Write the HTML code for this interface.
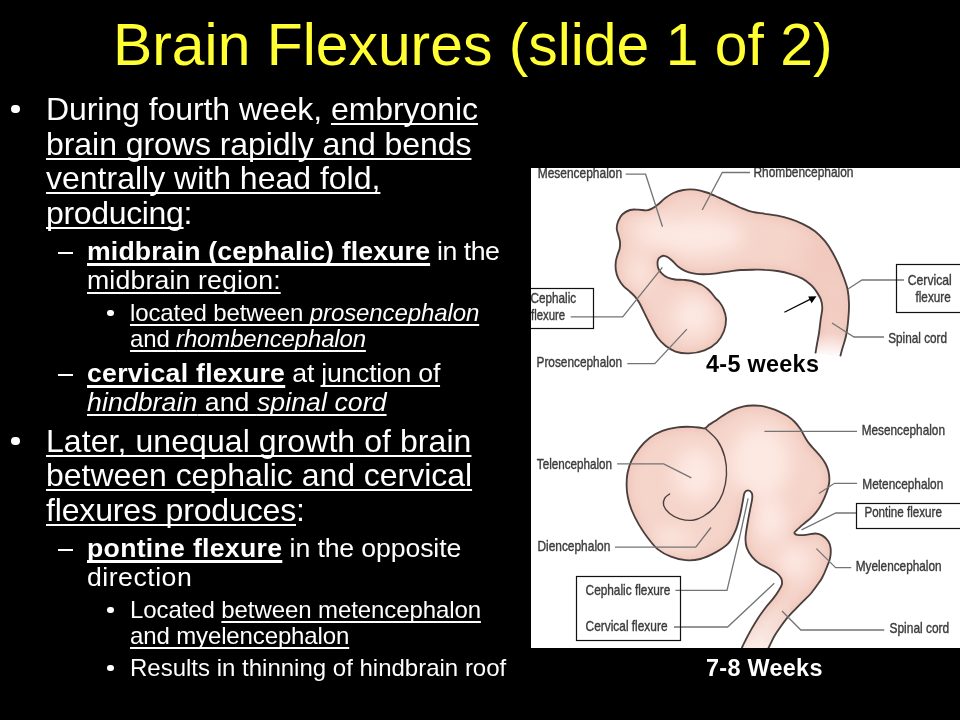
<!DOCTYPE html>
<html><head><meta charset="utf-8">
<style>
html,body{margin:0;padding:0;background:#000;}
body{width:960px;height:720px;overflow:hidden;position:relative;font-family:"Liberation Sans",sans-serif;color:#fff;}
.t{position:absolute;white-space:nowrap;line-height:1;will-change:transform;}
.title{color:#ffff33;font-size:58.85px;left:112.5px;top:16.1px;}
.l1{font-size:32px;left:45.5px;}
.l2{font-size:26.67px;left:87.4px;}
.l3{font-size:24px;left:130px;}
.b1{font-size:32px;left:14px;}
.b2{font-size:26.67px;left:58px;}
.b3{font-size:24px;left:110px;}
u{text-decoration:underline;text-decoration-skip-ink:none;text-underline-offset:3px;text-decoration-thickness:2px;}
u.bu{text-decoration-thickness:3px;}
.dot{position:absolute;background:#fff;border-radius:50%;}
.dash{position:absolute;background:#fff;}
#panel{position:absolute;left:531px;top:168px;width:429px;height:480px;background:#fff;}
.cap{font-weight:bold;font-size:23.4px;letter-spacing:0.3px;}
</style></head><body>
<div class="t title">Brain Flexures (slide 1 of 2)</div>

<div class="dot" style="left:10.95px;top:104.60px;width:8.6px;height:8.6px"></div>
<div class="t l1" id="L1" style="top:92.91px;letter-spacing:-0.071px">During fourth week, <u>embryonic</u></div>
<div class="t l1" id="L2" style="top:127.91px;letter-spacing:-0.050px"><u>brain grows rapidly and bends</u></div>
<div class="t l1" id="L3" style="top:161.91px"><u>ventrally with head fold,</u></div>
<div class="t l1" id="L4" style="top:196.91px;letter-spacing:-0.333px"><u>producing</u>:</div>
<div class="dash" style="left:57.9px;top:251.85px;width:15.2px;height:2.1px"></div>
<div class="t l2" id="L5" style="top:237.92px;letter-spacing:-0.482px"><u class="bu"><b style="letter-spacing:0.144px">midbrain (cephalic) flexure</b></u> in the</div>
<div class="t l2" id="L6" style="top:266.92px;letter-spacing:0.160px"><u>midbrain region:</u></div>
<div class="dot" style="left:107.00px;top:309.70px;width:6.6px;height:6.6px"></div>
<div class="t l3" id="L7" style="top:300.68px;letter-spacing:-0.103px"><u>located between <i>prosencephalon</i></u></div>
<div class="t l3" id="L8" style="top:326.68px;letter-spacing:-0.156px"><u>and <i>rhombencephalon</i></u></div>
<div class="dash" style="left:57.9px;top:373.85px;width:15.2px;height:2.1px"></div>
<div class="t l2" id="L9" style="top:359.92px;letter-spacing:-0.248px"><u class="bu"><b style="letter-spacing:0.254px">cervical flexure</b></u> at <u>junction of</u></div>
<div class="t l2" id="L10" style="top:388.92px;letter-spacing:0.067px"><u><i>hindbrain</i> and <i>spinal cord</i></u></div>
<div class="dot" style="left:10.95px;top:436.60px;width:8.6px;height:8.6px"></div>
<div class="t l1" id="L11" style="top:424.91px;letter-spacing:0.069px"><u>Later, unequal growth of brain</u></div>
<div class="t l1" id="L12" style="top:458.91px;letter-spacing:-0.029px"><u>between cephalic and cervical</u></div>
<div class="t l1" id="L13" style="top:493.91px;letter-spacing:-0.153px"><u>flexures produces</u>:</div>
<div class="dash" style="left:57.9px;top:548.85px;width:15.2px;height:2.1px"></div>
<div class="t l2" id="L14" style="top:534.92px;letter-spacing:-0.123px"><u class="bu"><b style="letter-spacing:0.283px">pontine flexure</b></u> in the opposite</div>
<div class="t l2" id="L15" style="top:563.92px;letter-spacing:0.500px">direction</div>
<div class="dot" style="left:107.00px;top:606.70px;width:6.6px;height:6.6px"></div>
<div class="t l3" id="L16" style="top:597.68px;letter-spacing:-0.093px">Located <u>between metencephalon</u></div>
<div class="t l3" id="L17" style="top:623.68px;letter-spacing:-0.129px"><u>and myelencephalon</u></div>
<div class="dot" style="left:107.00px;top:664.70px;width:6.6px;height:6.6px"></div>
<div class="t l3" id="L18" style="top:655.68px">Results in thinning of hindbrain roof</div>

<div id="panel"></div>
<svg id="fig" width="429" height="480" viewBox="531 168 429 480" style="position:absolute;left:531px;top:168px;overflow:hidden;will-change:transform;opacity:0.999;font-family:'Liberation Sans',sans-serif">
<defs>
<filter id="bl" x="-50%" y="-50%" width="200%" height="200%"><feGaussianBlur stdDeviation="9"/></filter>
<filter id="bl3" x="-50%" y="-50%" width="200%" height="200%"><feGaussianBlur stdDeviation="3.5"/></filter>
<filter id="bl2" x="-50%" y="-50%" width="200%" height="200%"><feGaussianBlur stdDeviation="5"/></filter>
<linearGradient id="fade1" x1="0" y1="333" x2="0" y2="357" gradientUnits="userSpaceOnUse"><stop offset="0" stop-color="#fff" stop-opacity="0"/><stop offset="1" stop-color="#fff" stop-opacity="1"/></linearGradient>
<linearGradient id="fade2" x1="0" y1="600" x2="0" y2="650" gradientUnits="userSpaceOnUse"><stop offset="0" stop-color="#fff" stop-opacity="0"/><stop offset="1" stop-color="#fff" stop-opacity="0.6"/></linearGradient>

<clipPath id="c1"><path d="M815.5,353.0C815.8,351.5 816.4,347.3 817.0,344.0C817.6,340.7 818.4,337.0 819.0,333.0C819.6,329.0 820.1,324.2 820.6,320.0C821.1,315.8 822.3,311.4 822.3,308.0C822.3,304.6 821.9,302.2 820.8,299.3C819.7,296.4 817.4,293.0 815.8,290.6C814.2,288.2 813.2,287.0 811.0,285.0C808.8,283.0 806.0,280.5 802.5,278.6C799.0,276.7 794.2,275.0 790.0,273.8C785.8,272.5 781.7,271.7 777.5,271.0C773.3,270.3 769.2,270.0 765.0,269.8C760.8,269.5 756.5,269.7 752.5,269.7C748.5,269.7 744.8,269.7 741.0,270.0C737.2,270.3 734.0,270.8 730.0,271.3C726.0,271.9 721.2,272.8 716.7,273.3C712.2,273.8 707.2,274.2 703.3,274.2C699.4,274.2 696.3,273.9 693.3,273.3C690.2,272.7 687.5,271.9 685.0,270.8C682.5,269.7 680.2,268.2 678.3,266.7C676.3,265.2 675.0,263.2 673.3,261.7C671.6,260.2 669.8,258.5 668.3,257.5C666.8,256.5 665.5,255.9 664.2,255.8C663.0,255.7 661.8,256.1 660.8,256.7C659.8,257.3 658.8,258.1 658.3,259.2C657.8,260.3 657.5,261.8 657.5,263.3C657.5,264.8 657.6,266.6 658.3,268.3C659.0,270.0 660.2,271.8 661.7,273.3C663.2,274.8 665.3,276.5 667.5,277.5C669.7,278.5 672.4,279.1 675.0,279.5C677.6,279.9 680.5,279.6 683.3,279.8C686.1,280.1 688.8,280.2 691.7,281.0C694.6,281.8 698.2,283.1 700.8,284.3C703.3,285.6 705.2,287.1 707.0,288.5C708.8,289.9 710.1,291.4 711.5,293.0C712.9,294.6 714.0,296.3 715.3,297.8C716.6,299.3 717.8,300.0 719.2,301.8C720.6,303.6 722.4,306.0 723.5,308.8C724.6,311.6 725.9,314.9 726.0,318.6C726.1,322.3 725.5,327.1 724.0,331.0C722.5,334.9 720.2,339.1 717.0,342.3C713.8,345.5 709.2,348.5 704.5,350.3C699.8,352.1 693.8,353.2 689.0,353.4C684.2,353.6 679.4,352.9 675.5,351.6C671.6,350.3 668.5,348.2 665.5,345.8C662.5,343.4 659.9,340.8 657.5,337.5C655.1,334.2 653.1,330.3 651.0,326.3C648.9,322.3 646.7,317.6 644.7,313.7C642.8,309.8 640.9,305.5 639.3,302.7C637.7,299.9 636.5,298.5 635.0,296.7C633.5,294.9 632.0,293.5 630.0,291.7C628.0,289.9 625.2,288.0 623.3,285.8C621.3,283.6 619.5,280.9 618.3,278.3C617.0,275.7 616.2,272.8 615.8,270.0C615.4,267.2 615.5,264.2 615.8,261.7C616.1,259.2 616.9,257.2 617.5,255.0C618.1,252.8 619.3,250.5 619.7,248.3C620.1,246.1 620.2,243.9 620.0,241.7C619.8,239.5 618.8,237.2 618.3,235.0C617.8,232.8 616.7,230.7 616.7,228.3C616.7,225.9 617.3,223.2 618.3,220.8C619.3,218.5 620.5,216.0 622.5,214.2C624.5,212.4 627.4,210.8 630.0,210.0C632.6,209.2 635.5,209.6 638.3,209.7C641.1,209.8 644.3,210.5 646.7,210.3C649.1,210.1 650.6,209.3 652.5,208.3C654.4,207.3 656.2,205.9 658.3,204.2C660.4,202.5 662.5,200.2 665.0,198.3C667.5,196.4 670.2,194.4 673.3,193.0C676.3,191.6 679.7,190.6 683.3,190.0C686.9,189.4 691.1,189.3 695.0,189.7C698.9,190.1 702.8,191.2 706.7,192.5C710.6,193.8 714.4,195.6 718.3,197.3C722.2,199.0 726.4,201.1 730.0,202.8C733.6,204.5 736.2,206.0 740.0,207.5C743.8,209.0 748.3,210.9 752.5,211.9C756.7,212.9 760.8,213.1 765.0,213.8C769.2,214.4 773.3,214.8 777.5,215.6C781.7,216.4 785.8,217.4 790.0,218.8C794.2,220.1 798.3,221.7 802.5,223.8C806.7,225.8 811.2,228.3 815.0,231.2C818.8,234.2 822.1,237.7 825.0,241.2C827.9,244.8 830.2,248.5 832.5,252.5C834.8,256.5 836.9,260.8 838.8,265.0C840.6,269.2 842.3,273.4 843.8,277.5C845.2,281.6 846.7,285.1 847.6,289.5C848.5,293.9 848.9,298.9 849.0,304.0C849.1,309.1 848.7,314.7 848.2,320.0C847.7,325.3 847.0,331.3 846.0,336.0C845.0,340.7 843.4,344.8 842.5,348.0C841.6,351.2 840.8,354.2 840.5,355.5Z"/></clipPath>
<clipPath id="c2"><path d="M741.5,649.0C741.7,648.4 742.1,647.1 742.9,645.5C743.6,643.9 744.6,642.0 746.0,639.3C747.4,636.6 749.3,633.0 751.3,629.4C753.3,625.8 755.8,621.6 758.2,617.9C760.6,614.2 763.4,610.5 765.9,607.2C768.4,603.9 771.4,600.9 773.5,598.1C775.6,595.3 777.4,592.7 778.8,590.4C780.2,588.1 781.5,586.3 781.9,584.3C782.3,582.3 782.0,580.1 781.1,578.2C780.2,576.3 778.5,574.5 776.5,572.9C774.5,571.2 771.7,569.8 768.9,568.3C766.1,566.8 762.5,565.6 759.7,563.7C756.9,561.8 754.3,559.5 752.1,556.8C749.9,554.1 747.8,550.7 746.7,547.6C745.6,544.5 745.4,542.0 745.5,538.0C745.6,534.0 746.7,528.3 747.5,523.5C748.3,518.7 749.4,513.3 750.2,509.1C751.0,504.9 752.0,501.0 752.2,498.3C752.5,495.6 752.4,494.2 751.7,492.9C751.0,491.6 749.3,490.3 748.1,490.3C746.9,490.3 745.4,491.0 744.5,492.9C743.6,494.8 743.5,498.0 742.7,501.9C741.9,505.8 741.0,511.5 739.8,516.3C738.6,521.1 737.4,526.2 735.5,530.7C733.6,535.2 731.6,539.8 728.3,543.4C725.0,547.0 720.3,549.8 715.6,552.4C710.9,555.0 705.2,557.7 700.2,559.0C695.2,560.3 690.5,560.6 685.6,560.2C680.7,559.8 675.6,558.5 671.0,556.7C666.4,554.9 661.8,552.6 657.9,549.4C654.0,546.2 650.9,541.8 647.7,537.7C644.5,533.6 641.6,529.2 638.9,524.6C636.2,520.0 633.5,514.6 631.6,510.0C629.8,505.4 628.6,501.2 627.8,497.0C627.0,492.8 626.6,488.9 626.6,485.0C626.6,481.1 626.7,477.4 627.5,473.3C628.3,469.2 629.5,464.9 631.5,460.7C633.5,456.5 636.5,451.9 639.5,448.1C642.5,444.3 646.0,440.7 649.8,437.8C653.6,434.9 657.8,432.6 662.4,430.9C667.0,429.1 672.5,428.0 677.3,427.3C682.1,426.6 687.0,426.7 691.0,426.8C695.0,426.9 699.0,427.6 701.3,427.8C703.6,428.1 703.7,428.8 705.0,428.3C706.3,427.8 707.4,426.0 709.0,424.8C710.6,423.6 712.2,422.9 714.6,421.3C717.0,419.7 720.1,417.3 723.3,415.4C726.4,413.4 730.1,411.1 733.5,409.6C736.9,408.1 740.6,407.1 743.8,406.4C747.0,405.7 749.6,405.6 752.5,405.5C755.4,405.4 758.4,405.5 761.3,405.9C764.2,406.3 767.1,407.2 770.0,408.1C772.9,409.0 775.8,410.0 778.7,411.3C781.6,412.6 784.8,414.3 787.5,416.1C790.2,417.9 792.6,419.8 794.8,422.0C797.0,424.2 798.9,426.8 800.6,429.3C802.3,431.9 803.5,434.9 805.0,437.3C806.5,439.7 807.7,441.7 809.4,443.9C811.1,446.1 813.3,448.2 815.2,450.4C817.1,452.6 819.3,454.8 821.0,457.0C822.7,459.2 824.2,461.2 825.4,463.5C826.6,465.8 827.6,468.1 828.3,470.8C829.0,473.5 829.4,476.7 829.4,479.6C829.4,482.5 828.8,485.4 828.0,488.3C827.2,491.2 826.1,493.9 824.7,497.1C823.3,500.3 821.5,504.3 819.5,507.5C817.5,510.7 815.5,513.3 812.8,516.1C810.1,518.9 805.8,522.1 803.1,524.4C800.4,526.7 798.2,528.6 796.8,530.0C795.3,531.4 794.3,532.0 794.4,532.8C794.5,533.6 795.6,534.5 797.5,534.9C799.4,535.2 802.8,535.1 805.8,534.9C808.8,534.7 812.8,533.4 815.6,533.5C818.4,533.6 820.4,534.3 822.5,535.6C824.6,536.9 826.8,539.0 828.1,541.1C829.5,543.2 830.3,545.3 830.6,548.1C830.9,550.9 830.8,554.6 830.1,557.8C829.5,561.0 828.1,564.1 826.7,567.5C825.4,570.9 823.5,575.2 822.0,578.0C820.5,580.8 819.6,581.7 817.8,584.3C815.9,586.9 813.3,590.7 810.9,593.5C808.5,596.3 805.8,598.6 803.3,601.1C800.8,603.6 798.4,606.0 795.7,608.8C793.0,611.6 789.8,614.8 787.2,617.9C784.7,621.0 782.5,624.0 780.4,627.1C778.2,630.2 776.1,633.2 774.3,636.3C772.5,639.4 770.8,643.4 769.7,645.5C768.7,647.6 768.3,648.4 768.0,649.0Z"/></clipPath>
</defs>
<rect x="531" y="168" width="429" height="480" fill="#fff"/>
<g clip-path="url(#c1)">
<rect x="600" y="180" width="270" height="190" fill="#f5d4ca"/>
<path d="M815.5,353.0C815.8,351.5 816.4,347.3 817.0,344.0C817.6,340.7 818.4,337.0 819.0,333.0C819.6,329.0 820.1,324.2 820.6,320.0C821.1,315.8 822.3,311.4 822.3,308.0C822.3,304.6 821.9,302.2 820.8,299.3C819.7,296.4 817.4,293.0 815.8,290.6C814.2,288.2 813.2,287.0 811.0,285.0C808.8,283.0 806.0,280.5 802.5,278.6C799.0,276.7 794.2,275.0 790.0,273.8C785.8,272.5 781.7,271.7 777.5,271.0C773.3,270.3 769.2,270.0 765.0,269.8C760.8,269.5 756.5,269.7 752.5,269.7C748.5,269.7 744.8,269.7 741.0,270.0C737.2,270.3 734.0,270.8 730.0,271.3C726.0,271.9 721.2,272.8 716.7,273.3C712.2,273.8 707.2,274.2 703.3,274.2C699.4,274.2 696.3,273.9 693.3,273.3C690.2,272.7 687.5,271.9 685.0,270.8C682.5,269.7 680.2,268.2 678.3,266.7C676.3,265.2 675.0,263.2 673.3,261.7C671.6,260.2 669.8,258.5 668.3,257.5C666.8,256.5 665.5,255.9 664.2,255.8C663.0,255.7 661.8,256.1 660.8,256.7C659.8,257.3 658.8,258.1 658.3,259.2C657.8,260.3 657.5,261.8 657.5,263.3C657.5,264.8 657.6,266.6 658.3,268.3C659.0,270.0 660.2,271.8 661.7,273.3C663.2,274.8 665.3,276.5 667.5,277.5C669.7,278.5 672.4,279.1 675.0,279.5C677.6,279.9 680.5,279.6 683.3,279.8C686.1,280.1 688.8,280.2 691.7,281.0C694.6,281.8 698.2,283.1 700.8,284.3C703.3,285.6 705.2,287.1 707.0,288.5C708.8,289.9 710.1,291.4 711.5,293.0C712.9,294.6 714.0,296.3 715.3,297.8C716.6,299.3 717.8,300.0 719.2,301.8C720.6,303.6 722.4,306.0 723.5,308.8C724.6,311.6 725.9,314.9 726.0,318.6C726.1,322.3 725.5,327.1 724.0,331.0C722.5,334.9 720.2,339.1 717.0,342.3C713.8,345.5 709.2,348.5 704.5,350.3C699.8,352.1 693.8,353.2 689.0,353.4C684.2,353.6 679.4,352.9 675.5,351.6C671.6,350.3 668.5,348.2 665.5,345.8C662.5,343.4 659.9,340.8 657.5,337.5C655.1,334.2 653.1,330.3 651.0,326.3C648.9,322.3 646.7,317.6 644.7,313.7C642.8,309.8 640.9,305.5 639.3,302.7C637.7,299.9 636.5,298.5 635.0,296.7C633.5,294.9 632.0,293.5 630.0,291.7C628.0,289.9 625.2,288.0 623.3,285.8C621.3,283.6 619.5,280.9 618.3,278.3C617.0,275.7 616.2,272.8 615.8,270.0C615.4,267.2 615.5,264.2 615.8,261.7C616.1,259.2 616.9,257.2 617.5,255.0C618.1,252.8 619.3,250.5 619.7,248.3C620.1,246.1 620.2,243.9 620.0,241.7C619.8,239.5 618.8,237.2 618.3,235.0C617.8,232.8 616.7,230.7 616.7,228.3C616.7,225.9 617.3,223.2 618.3,220.8C619.3,218.5 620.5,216.0 622.5,214.2C624.5,212.4 627.4,210.8 630.0,210.0C632.6,209.2 635.5,209.6 638.3,209.7C641.1,209.8 644.3,210.5 646.7,210.3C649.1,210.1 650.6,209.3 652.5,208.3C654.4,207.3 656.2,205.9 658.3,204.2C660.4,202.5 662.5,200.2 665.0,198.3C667.5,196.4 670.2,194.4 673.3,193.0C676.3,191.6 679.7,190.6 683.3,190.0C686.9,189.4 691.1,189.3 695.0,189.7C698.9,190.1 702.8,191.2 706.7,192.5C710.6,193.8 714.4,195.6 718.3,197.3C722.2,199.0 726.4,201.1 730.0,202.8C733.6,204.5 736.2,206.0 740.0,207.5C743.8,209.0 748.3,210.9 752.5,211.9C756.7,212.9 760.8,213.1 765.0,213.8C769.2,214.4 773.3,214.8 777.5,215.6C781.7,216.4 785.8,217.4 790.0,218.8C794.2,220.1 798.3,221.7 802.5,223.8C806.7,225.8 811.2,228.3 815.0,231.2C818.8,234.2 822.1,237.7 825.0,241.2C827.9,244.8 830.2,248.5 832.5,252.5C834.8,256.5 836.9,260.8 838.8,265.0C840.6,269.2 842.3,273.4 843.8,277.5C845.2,281.6 846.7,285.1 847.6,289.5C848.5,293.9 848.9,298.9 849.0,304.0C849.1,309.1 848.7,314.7 848.2,320.0C847.7,325.3 847.0,331.3 846.0,336.0C845.0,340.7 843.4,344.8 842.5,348.0C841.6,351.2 840.8,354.2 840.5,355.5" fill="none" stroke="#efc4b8" stroke-width="9" filter="url(#bl3)" opacity="0.8"/>
<g filter="url(#bl)" fill="#fde9e2">
<ellipse cx="698" cy="236" rx="46" ry="19"/>
<ellipse cx="655" cy="232" rx="20" ry="14"/>
<ellipse cx="693" cy="316" rx="20" ry="20"/>
<ellipse cx="640" cy="272" rx="9" ry="16"/>
</g>
<g filter="url(#bl)" fill="#f1c8bd" opacity="0.85"><ellipse cx="822" cy="262" rx="20" ry="30"/><ellipse cx="836" cy="310" rx="10" ry="26"/></g>
<rect x="790" y="320" width="70" height="40" fill="url(#fade1)"/>
</g>
<path d="M815.5,353.0C815.8,351.5 816.4,347.3 817.0,344.0C817.6,340.7 818.4,337.0 819.0,333.0C819.6,329.0 820.1,324.2 820.6,320.0C821.1,315.8 822.3,311.4 822.3,308.0C822.3,304.6 821.9,302.2 820.8,299.3C819.7,296.4 817.4,293.0 815.8,290.6C814.2,288.2 813.2,287.0 811.0,285.0C808.8,283.0 806.0,280.5 802.5,278.6C799.0,276.7 794.2,275.0 790.0,273.8C785.8,272.5 781.7,271.7 777.5,271.0C773.3,270.3 769.2,270.0 765.0,269.8C760.8,269.5 756.5,269.7 752.5,269.7C748.5,269.7 744.8,269.7 741.0,270.0C737.2,270.3 734.0,270.8 730.0,271.3C726.0,271.9 721.2,272.8 716.7,273.3C712.2,273.8 707.2,274.2 703.3,274.2C699.4,274.2 696.3,273.9 693.3,273.3C690.2,272.7 687.5,271.9 685.0,270.8C682.5,269.7 680.2,268.2 678.3,266.7C676.3,265.2 675.0,263.2 673.3,261.7C671.6,260.2 669.8,258.5 668.3,257.5C666.8,256.5 665.5,255.9 664.2,255.8C663.0,255.7 661.8,256.1 660.8,256.7C659.8,257.3 658.8,258.1 658.3,259.2C657.8,260.3 657.5,261.8 657.5,263.3C657.5,264.8 657.6,266.6 658.3,268.3C659.0,270.0 660.2,271.8 661.7,273.3C663.2,274.8 665.3,276.5 667.5,277.5C669.7,278.5 672.4,279.1 675.0,279.5C677.6,279.9 680.5,279.6 683.3,279.8C686.1,280.1 688.8,280.2 691.7,281.0C694.6,281.8 698.2,283.1 700.8,284.3C703.3,285.6 705.2,287.1 707.0,288.5C708.8,289.9 710.1,291.4 711.5,293.0C712.9,294.6 714.0,296.3 715.3,297.8C716.6,299.3 717.8,300.0 719.2,301.8C720.6,303.6 722.4,306.0 723.5,308.8C724.6,311.6 725.9,314.9 726.0,318.6C726.1,322.3 725.5,327.1 724.0,331.0C722.5,334.9 720.2,339.1 717.0,342.3C713.8,345.5 709.2,348.5 704.5,350.3C699.8,352.1 693.8,353.2 689.0,353.4C684.2,353.6 679.4,352.9 675.5,351.6C671.6,350.3 668.5,348.2 665.5,345.8C662.5,343.4 659.9,340.8 657.5,337.5C655.1,334.2 653.1,330.3 651.0,326.3C648.9,322.3 646.7,317.6 644.7,313.7C642.8,309.8 640.9,305.5 639.3,302.7C637.7,299.9 636.5,298.5 635.0,296.7C633.5,294.9 632.0,293.5 630.0,291.7C628.0,289.9 625.2,288.0 623.3,285.8C621.3,283.6 619.5,280.9 618.3,278.3C617.0,275.7 616.2,272.8 615.8,270.0C615.4,267.2 615.5,264.2 615.8,261.7C616.1,259.2 616.9,257.2 617.5,255.0C618.1,252.8 619.3,250.5 619.7,248.3C620.1,246.1 620.2,243.9 620.0,241.7C619.8,239.5 618.8,237.2 618.3,235.0C617.8,232.8 616.7,230.7 616.7,228.3C616.7,225.9 617.3,223.2 618.3,220.8C619.3,218.5 620.5,216.0 622.5,214.2C624.5,212.4 627.4,210.8 630.0,210.0C632.6,209.2 635.5,209.6 638.3,209.7C641.1,209.8 644.3,210.5 646.7,210.3C649.1,210.1 650.6,209.3 652.5,208.3C654.4,207.3 656.2,205.9 658.3,204.2C660.4,202.5 662.5,200.2 665.0,198.3C667.5,196.4 670.2,194.4 673.3,193.0C676.3,191.6 679.7,190.6 683.3,190.0C686.9,189.4 691.1,189.3 695.0,189.7C698.9,190.1 702.8,191.2 706.7,192.5C710.6,193.8 714.4,195.6 718.3,197.3C722.2,199.0 726.4,201.1 730.0,202.8C733.6,204.5 736.2,206.0 740.0,207.5C743.8,209.0 748.3,210.9 752.5,211.9C756.7,212.9 760.8,213.1 765.0,213.8C769.2,214.4 773.3,214.8 777.5,215.6C781.7,216.4 785.8,217.4 790.0,218.8C794.2,220.1 798.3,221.7 802.5,223.8C806.7,225.8 811.2,228.3 815.0,231.2C818.8,234.2 822.1,237.7 825.0,241.2C827.9,244.8 830.2,248.5 832.5,252.5C834.8,256.5 836.9,260.8 838.8,265.0C840.6,269.2 842.3,273.4 843.8,277.5C845.2,281.6 846.7,285.1 847.6,289.5C848.5,293.9 848.9,298.9 849.0,304.0C849.1,309.1 848.7,314.7 848.2,320.0C847.7,325.3 847.0,331.3 846.0,336.0C845.0,340.7 843.4,344.8 842.5,348.0C841.6,351.2 840.8,354.2 840.5,355.5" fill="none" stroke="#4a3f3d" stroke-width="1.85" stroke-linecap="round"/>
<g clip-path="url(#c2)">
<rect x="620" y="400" width="220" height="250" fill="#f5d4ca"/>
<path d="M741.5,649.0C741.7,648.4 742.1,647.1 742.9,645.5C743.6,643.9 744.6,642.0 746.0,639.3C747.4,636.6 749.3,633.0 751.3,629.4C753.3,625.8 755.8,621.6 758.2,617.9C760.6,614.2 763.4,610.5 765.9,607.2C768.4,603.9 771.4,600.9 773.5,598.1C775.6,595.3 777.4,592.7 778.8,590.4C780.2,588.1 781.5,586.3 781.9,584.3C782.3,582.3 782.0,580.1 781.1,578.2C780.2,576.3 778.5,574.5 776.5,572.9C774.5,571.2 771.7,569.8 768.9,568.3C766.1,566.8 762.5,565.6 759.7,563.7C756.9,561.8 754.3,559.5 752.1,556.8C749.9,554.1 747.8,550.7 746.7,547.6C745.6,544.5 745.4,542.0 745.5,538.0C745.6,534.0 746.7,528.3 747.5,523.5C748.3,518.7 749.4,513.3 750.2,509.1C751.0,504.9 752.0,501.0 752.2,498.3C752.5,495.6 752.4,494.2 751.7,492.9C751.0,491.6 749.3,490.3 748.1,490.3C746.9,490.3 745.4,491.0 744.5,492.9C743.6,494.8 743.5,498.0 742.7,501.9C741.9,505.8 741.0,511.5 739.8,516.3C738.6,521.1 737.4,526.2 735.5,530.7C733.6,535.2 731.6,539.8 728.3,543.4C725.0,547.0 720.3,549.8 715.6,552.4C710.9,555.0 705.2,557.7 700.2,559.0C695.2,560.3 690.5,560.6 685.6,560.2C680.7,559.8 675.6,558.5 671.0,556.7C666.4,554.9 661.8,552.6 657.9,549.4C654.0,546.2 650.9,541.8 647.7,537.7C644.5,533.6 641.6,529.2 638.9,524.6C636.2,520.0 633.5,514.6 631.6,510.0C629.8,505.4 628.6,501.2 627.8,497.0C627.0,492.8 626.6,488.9 626.6,485.0C626.6,481.1 626.7,477.4 627.5,473.3C628.3,469.2 629.5,464.9 631.5,460.7C633.5,456.5 636.5,451.9 639.5,448.1C642.5,444.3 646.0,440.7 649.8,437.8C653.6,434.9 657.8,432.6 662.4,430.9C667.0,429.1 672.5,428.0 677.3,427.3C682.1,426.6 687.0,426.7 691.0,426.8C695.0,426.9 699.0,427.6 701.3,427.8C703.6,428.1 703.7,428.8 705.0,428.3C706.3,427.8 707.4,426.0 709.0,424.8C710.6,423.6 712.2,422.9 714.6,421.3C717.0,419.7 720.1,417.3 723.3,415.4C726.4,413.4 730.1,411.1 733.5,409.6C736.9,408.1 740.6,407.1 743.8,406.4C747.0,405.7 749.6,405.6 752.5,405.5C755.4,405.4 758.4,405.5 761.3,405.9C764.2,406.3 767.1,407.2 770.0,408.1C772.9,409.0 775.8,410.0 778.7,411.3C781.6,412.6 784.8,414.3 787.5,416.1C790.2,417.9 792.6,419.8 794.8,422.0C797.0,424.2 798.9,426.8 800.6,429.3C802.3,431.9 803.5,434.9 805.0,437.3C806.5,439.7 807.7,441.7 809.4,443.9C811.1,446.1 813.3,448.2 815.2,450.4C817.1,452.6 819.3,454.8 821.0,457.0C822.7,459.2 824.2,461.2 825.4,463.5C826.6,465.8 827.6,468.1 828.3,470.8C829.0,473.5 829.4,476.7 829.4,479.6C829.4,482.5 828.8,485.4 828.0,488.3C827.2,491.2 826.1,493.9 824.7,497.1C823.3,500.3 821.5,504.3 819.5,507.5C817.5,510.7 815.5,513.3 812.8,516.1C810.1,518.9 805.8,522.1 803.1,524.4C800.4,526.7 798.2,528.6 796.8,530.0C795.3,531.4 794.3,532.0 794.4,532.8C794.5,533.6 795.6,534.5 797.5,534.9C799.4,535.2 802.8,535.1 805.8,534.9C808.8,534.7 812.8,533.4 815.6,533.5C818.4,533.6 820.4,534.3 822.5,535.6C824.6,536.9 826.8,539.0 828.1,541.1C829.5,543.2 830.3,545.3 830.6,548.1C830.9,550.9 830.8,554.6 830.1,557.8C829.5,561.0 828.1,564.1 826.7,567.5C825.4,570.9 823.5,575.2 822.0,578.0C820.5,580.8 819.6,581.7 817.8,584.3C815.9,586.9 813.3,590.7 810.9,593.5C808.5,596.3 805.8,598.6 803.3,601.1C800.8,603.6 798.4,606.0 795.7,608.8C793.0,611.6 789.8,614.8 787.2,617.9C784.7,621.0 782.5,624.0 780.4,627.1C778.2,630.2 776.1,633.2 774.3,636.3C772.5,639.4 770.8,643.4 769.7,645.5C768.7,647.6 768.3,648.4 768.0,649.0" fill="none" stroke="#efc4b8" stroke-width="9" filter="url(#bl3)" opacity="0.8"/>
<g filter="url(#bl)" fill="#fde9e2">
<ellipse cx="696" cy="474" rx="22" ry="26"/>
<ellipse cx="760" cy="462" rx="30" ry="36"/>
<ellipse cx="770" cy="520" rx="16" ry="22"/>
<ellipse cx="795" cy="562" rx="16" ry="16"/>
<ellipse cx="672" cy="538" rx="22" ry="8"/>
</g>
<rect x="730" y="600" width="60" height="50" fill="url(#fade2)"/>
</g>
<path d="M741.5,649.0C741.7,648.4 742.1,647.1 742.9,645.5C743.6,643.9 744.6,642.0 746.0,639.3C747.4,636.6 749.3,633.0 751.3,629.4C753.3,625.8 755.8,621.6 758.2,617.9C760.6,614.2 763.4,610.5 765.9,607.2C768.4,603.9 771.4,600.9 773.5,598.1C775.6,595.3 777.4,592.7 778.8,590.4C780.2,588.1 781.5,586.3 781.9,584.3C782.3,582.3 782.0,580.1 781.1,578.2C780.2,576.3 778.5,574.5 776.5,572.9C774.5,571.2 771.7,569.8 768.9,568.3C766.1,566.8 762.5,565.6 759.7,563.7C756.9,561.8 754.3,559.5 752.1,556.8C749.9,554.1 747.8,550.7 746.7,547.6C745.6,544.5 745.4,542.0 745.5,538.0C745.6,534.0 746.7,528.3 747.5,523.5C748.3,518.7 749.4,513.3 750.2,509.1C751.0,504.9 752.0,501.0 752.2,498.3C752.5,495.6 752.4,494.2 751.7,492.9C751.0,491.6 749.3,490.3 748.1,490.3C746.9,490.3 745.4,491.0 744.5,492.9C743.6,494.8 743.5,498.0 742.7,501.9C741.9,505.8 741.0,511.5 739.8,516.3C738.6,521.1 737.4,526.2 735.5,530.7C733.6,535.2 731.6,539.8 728.3,543.4C725.0,547.0 720.3,549.8 715.6,552.4C710.9,555.0 705.2,557.7 700.2,559.0C695.2,560.3 690.5,560.6 685.6,560.2C680.7,559.8 675.6,558.5 671.0,556.7C666.4,554.9 661.8,552.6 657.9,549.4C654.0,546.2 650.9,541.8 647.7,537.7C644.5,533.6 641.6,529.2 638.9,524.6C636.2,520.0 633.5,514.6 631.6,510.0C629.8,505.4 628.6,501.2 627.8,497.0C627.0,492.8 626.6,488.9 626.6,485.0C626.6,481.1 626.7,477.4 627.5,473.3C628.3,469.2 629.5,464.9 631.5,460.7C633.5,456.5 636.5,451.9 639.5,448.1C642.5,444.3 646.0,440.7 649.8,437.8C653.6,434.9 657.8,432.6 662.4,430.9C667.0,429.1 672.5,428.0 677.3,427.3C682.1,426.6 687.0,426.7 691.0,426.8C695.0,426.9 699.0,427.6 701.3,427.8C703.6,428.1 703.7,428.8 705.0,428.3C706.3,427.8 707.4,426.0 709.0,424.8C710.6,423.6 712.2,422.9 714.6,421.3C717.0,419.7 720.1,417.3 723.3,415.4C726.4,413.4 730.1,411.1 733.5,409.6C736.9,408.1 740.6,407.1 743.8,406.4C747.0,405.7 749.6,405.6 752.5,405.5C755.4,405.4 758.4,405.5 761.3,405.9C764.2,406.3 767.1,407.2 770.0,408.1C772.9,409.0 775.8,410.0 778.7,411.3C781.6,412.6 784.8,414.3 787.5,416.1C790.2,417.9 792.6,419.8 794.8,422.0C797.0,424.2 798.9,426.8 800.6,429.3C802.3,431.9 803.5,434.9 805.0,437.3C806.5,439.7 807.7,441.7 809.4,443.9C811.1,446.1 813.3,448.2 815.2,450.4C817.1,452.6 819.3,454.8 821.0,457.0C822.7,459.2 824.2,461.2 825.4,463.5C826.6,465.8 827.6,468.1 828.3,470.8C829.0,473.5 829.4,476.7 829.4,479.6C829.4,482.5 828.8,485.4 828.0,488.3C827.2,491.2 826.1,493.9 824.7,497.1C823.3,500.3 821.5,504.3 819.5,507.5C817.5,510.7 815.5,513.3 812.8,516.1C810.1,518.9 805.8,522.1 803.1,524.4C800.4,526.7 798.2,528.6 796.8,530.0C795.3,531.4 794.3,532.0 794.4,532.8C794.5,533.6 795.6,534.5 797.5,534.9C799.4,535.2 802.8,535.1 805.8,534.9C808.8,534.7 812.8,533.4 815.6,533.5C818.4,533.6 820.4,534.3 822.5,535.6C824.6,536.9 826.8,539.0 828.1,541.1C829.5,543.2 830.3,545.3 830.6,548.1C830.9,550.9 830.8,554.6 830.1,557.8C829.5,561.0 828.1,564.1 826.7,567.5C825.4,570.9 823.5,575.2 822.0,578.0C820.5,580.8 819.6,581.7 817.8,584.3C815.9,586.9 813.3,590.7 810.9,593.5C808.5,596.3 805.8,598.6 803.3,601.1C800.8,603.6 798.4,606.0 795.7,608.8C793.0,611.6 789.8,614.8 787.2,617.9C784.7,621.0 782.5,624.0 780.4,627.1C778.2,630.2 776.1,633.2 774.3,636.3C772.5,639.4 770.8,643.4 769.7,645.5C768.7,647.6 768.3,648.4 768.0,649.0" fill="none" stroke="#4a3f3d" stroke-width="1.85"/>
<path d="M705.0,428.3C707.1,430.3 714.1,435.8 717.4,440.5C720.7,445.2 723.2,451.1 724.7,456.8C726.2,462.5 726.8,468.8 726.5,474.8C726.2,480.8 724.9,487.5 722.9,492.9C720.9,498.3 717.9,503.4 714.6,507.3C711.3,511.2 706.6,514.4 703.0,516.5C699.4,518.6 696.8,519.8 692.9,520.2C689.0,520.6 683.7,519.9 679.8,518.8C675.9,517.7 672.3,515.7 669.6,513.5C666.9,511.3 664.5,508.1 663.7,505.6C662.9,503.1 663.6,500.2 664.6,498.3C665.6,496.4 668.8,494.7 669.6,494.0" fill="none" stroke="#4a3f3d" stroke-width="1.4" stroke-linecap="round"/>
<polyline points="625.7,174.2 645.6,174.2 662.5,226.7" fill="none" stroke="#747474" stroke-width="1.3"/>
<polyline points="750,172.5 722.3,172.5 702.2,210" fill="none" stroke="#747474" stroke-width="1.3"/>
<polyline points="570.7,316.9 622.7,316.9 662.4,267.4" fill="none" stroke="#747474" stroke-width="1.3"/>
<polyline points="627.3,363.7 654.8,363.7 686.9,329.1" fill="none" stroke="#747474" stroke-width="1.3"/>
<polyline points="848,289 862,280 904,280" fill="none" stroke="#747474" stroke-width="1.3"/>
<polyline points="832,323 854,337 884,337" fill="none" stroke="#747474" stroke-width="1.3"/>
<polyline points="617.1,463.9 663.7,463.9 691.4,477.9" fill="none" stroke="#747474" stroke-width="1.3"/>
<polyline points="615,547.1 695.8,547.1 711,527.5" fill="none" stroke="#747474" stroke-width="1.3"/>
<polyline points="764.4,431.4 857,431.4" fill="none" stroke="#747474" stroke-width="1.3"/>
<polyline points="818.9,493.5 834.5,483.3 857.1,483.3" fill="none" stroke="#747474" stroke-width="1.3"/>
<polyline points="801.5,529.8 835.8,513 856.4,513" fill="none" stroke="#747474" stroke-width="1.3"/>
<polyline points="816.4,548.6 835.6,567.6 851.2,567.6" fill="none" stroke="#747474" stroke-width="1.3"/>
<polyline points="782,611 800.8,630 884.2,630" fill="none" stroke="#747474" stroke-width="1.3"/>
<polyline points="675.4,590.4 727,590.4 739,540 748.1,498.3" fill="none" stroke="#747474" stroke-width="1.3"/>
<polyline points="673.9,627 727.6,627 774.3,583.3" fill="none" stroke="#747474" stroke-width="1.3"/>
<rect x="520.5" y="288.5" width="73.0" height="40.0" fill="none" stroke="#111" stroke-width="1.2"/>
<rect x="896.5" y="264.5" width="74.0" height="48.0" fill="none" stroke="#111" stroke-width="1.2"/>
<rect x="576.5" y="576.5" width="104.0" height="64.0" fill="none" stroke="#111" stroke-width="1.2"/>
<rect x="856.5" y="503.5" width="114.0" height="25.0" fill="none" stroke="#111" stroke-width="1.2"/>
<text x="537.7" y="177.8" font-size="14.5" textLength="84.4" lengthAdjust="spacingAndGlyphs" fill="#3c3c3c" stroke="#3c3c3c" stroke-width="0.4">Mesencephalon</text>
<text x="753.4" y="176.6" font-size="14.5" textLength="100.1" lengthAdjust="spacingAndGlyphs" fill="#3c3c3c" stroke="#3c3c3c" stroke-width="0.4">Rhombencephalon</text>
<text x="530.5" y="303.1" font-size="14.5" textLength="45.7" lengthAdjust="spacingAndGlyphs" fill="#3c3c3c" stroke="#3c3c3c" stroke-width="0.4">Cephalic</text>
<text x="531" y="320.3" font-size="14.5" textLength="34.2" lengthAdjust="spacingAndGlyphs" fill="#3c3c3c" stroke="#3c3c3c" stroke-width="0.4">flexure</text>
<text x="536.5" y="366.7" font-size="14.5" textLength="85.6" lengthAdjust="spacingAndGlyphs" fill="#3c3c3c" stroke="#3c3c3c" stroke-width="0.4">Prosencephalon</text>
<text x="907.8" y="285" font-size="14.5" textLength="44.0" lengthAdjust="spacingAndGlyphs" fill="#3c3c3c" stroke="#3c3c3c" stroke-width="0.4">Cervical</text>
<text x="915.5" y="302.2" font-size="14.5" textLength="35.2" lengthAdjust="spacingAndGlyphs" fill="#3c3c3c" stroke="#3c3c3c" stroke-width="0.4">flexure</text>
<text x="888.2" y="343.3" font-size="14.5" textLength="58.9" lengthAdjust="spacingAndGlyphs" fill="#3c3c3c" stroke="#3c3c3c" stroke-width="0.4">Spinal cord</text>
<text x="536.8" y="468.6" font-size="14.5" textLength="75.3" lengthAdjust="spacingAndGlyphs" fill="#3c3c3c" stroke="#3c3c3c" stroke-width="0.4">Telencephalon</text>
<text x="537.4" y="550.9" font-size="14.5" textLength="72.9" lengthAdjust="spacingAndGlyphs" fill="#3c3c3c" stroke="#3c3c3c" stroke-width="0.4">Diencephalon</text>
<text x="585.6" y="594.6" font-size="14.5" textLength="84.8" lengthAdjust="spacingAndGlyphs" fill="#3c3c3c" stroke="#3c3c3c" stroke-width="0.4">Cephalic flexure</text>
<text x="585.6" y="630.5" font-size="14.5" textLength="81.9" lengthAdjust="spacingAndGlyphs" fill="#3c3c3c" stroke="#3c3c3c" stroke-width="0.4">Cervical flexure</text>
<text x="861.7" y="435.4" font-size="14.5" textLength="83.3" lengthAdjust="spacingAndGlyphs" fill="#3c3c3c" stroke="#3c3c3c" stroke-width="0.4">Mesencephalon</text>
<text x="862.3" y="488.6" font-size="14.5" textLength="81.0" lengthAdjust="spacingAndGlyphs" fill="#3c3c3c" stroke="#3c3c3c" stroke-width="0.4">Metencephalon</text>
<text x="864.4" y="517.1" font-size="14.5" textLength="77.5" lengthAdjust="spacingAndGlyphs" fill="#3c3c3c" stroke="#3c3c3c" stroke-width="0.4">Pontine flexure</text>
<text x="855.7" y="571.3" font-size="14.5" textLength="85.9" lengthAdjust="spacingAndGlyphs" fill="#3c3c3c" stroke="#3c3c3c" stroke-width="0.4">Myelencephalon</text>
<text x="889.5" y="632.8" font-size="14.5" textLength="59.7" lengthAdjust="spacingAndGlyphs" fill="#3c3c3c" stroke="#3c3c3c" stroke-width="0.4">Spinal cord</text>
<line x1="784.4" y1="312.2" x2="812" y2="298.4" stroke="#000" stroke-width="1.2"/>
<polygon points="816.5,296.2 808.2,296.6 811.6,303.2" fill="#000"/>
<rect x="700" y="353.5" width="122" height="24" fill="#fff"/>
</svg>
<div class="t cap" id="cap1" style="left:705.5px;top:352.7px;color:#000">4-5 weeks</div>
<div class="t cap" id="cap2" style="left:705.5px;top:656.9px;color:#fff">7-8 Weeks</div>
</body></html>
